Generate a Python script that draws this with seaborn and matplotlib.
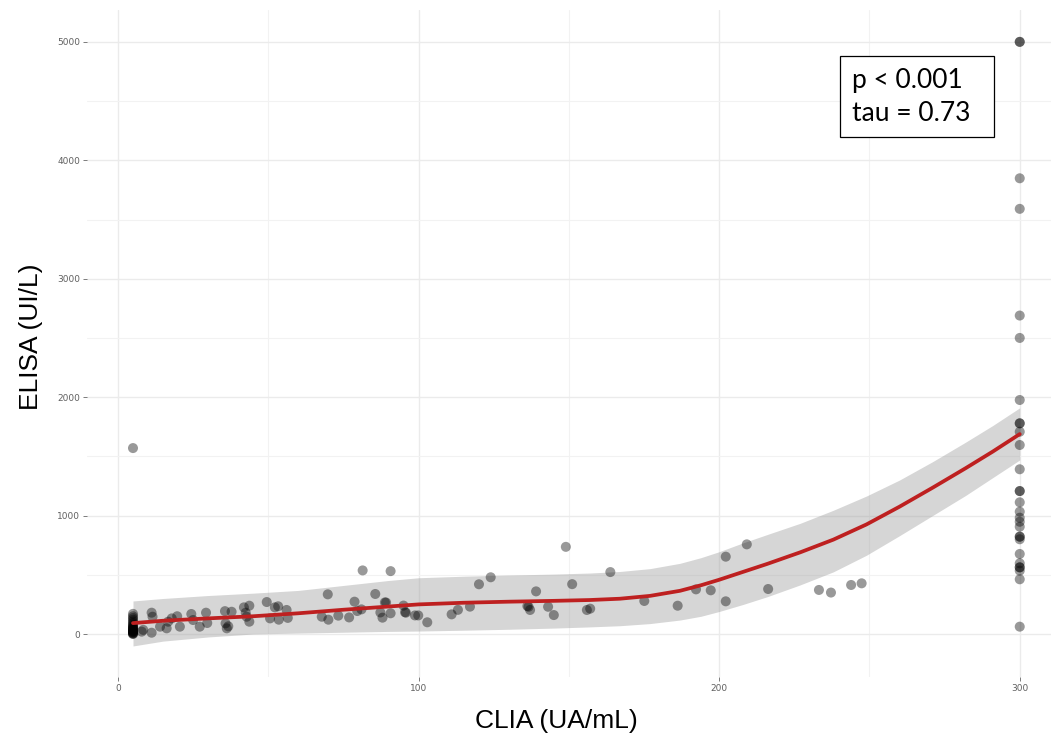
import numpy as np
import pandas as pd
import matplotlib
matplotlib.use("Agg")
import matplotlib.pyplot as plt
from matplotlib.patches import Rectangle
import seaborn as sns

# ---------------- data ----------------
# points at CLIA = 5 (lower limit cluster)
clia_low = [5] * 24
elisa_low = [0, 3, 6, 10, 14, 18, 22, 26, 30, 35, 40, 45, 50, 55, 62, 70, 80, 92,
             105, 120, 135, 150, 170, 1570]

# points between the limits
clia_mid = [8.4, 7.9, 11.2, 11.5, 11.2, 14.0, 16.2, 16.7, 17.9, 19.7, 20.6, 24.4,
            25.0, 27.2, 29.3, 29.7, 35.6, 37.8, 35.8, 36.2, 36.7, 41.9, 43.7, 42.5,
            42.8, 43.7, 49.5, 50.6, 52.2, 53.3, 53.5, 56.1, 56.5,
            67.8, 69.8, 70.0, 73.3, 76.9, 78.7, 79.6, 81.0, 81.4, 85.6, 87.3, 88.0,
            88.8, 89.2, 90.7, 90.7, 95.0, 95.5, 95.8, 98.8, 99.9, 102.9, 111.0,
            113.1, 117.1, 120.1, 124.0, 136.2, 136.6, 137.1, 139.1, 143.1, 145.0,
            149.0, 151.1, 156.0, 157.1, 163.8, 175.1, 186.2, 192.3, 197.2, 202.2,
            202.2, 209.2, 216.3, 233.2, 237.2, 243.9, 247.4]
elisa_mid = [35, 20, 180, 146, 11, 62, 48, 104, 132, 150, 62, 169,
             118, 62, 180, 93, 193, 188, 90, 48, 65, 225, 239, 180,
             146, 104, 270, 132, 225, 234, 121, 203, 136,
             146, 335, 121, 155, 140, 273, 194, 208, 537, 338, 182, 138,
             267, 266, 175, 531, 240, 184, 180, 157, 157, 99, 166,
             204, 231, 420, 479, 236, 230, 203, 360, 230, 160,
             736, 421, 203, 214, 523, 279, 239, 377, 369, 653,
             276, 757, 380, 372, 350, 414, 428]

# points at CLIA = 300 (upper limit)
clia_high = [300] * 29
elisa_high = [5000, 5000, 3848, 3590, 2689, 2500, 1976, 1779, 1779, 1708, 1596, 1391,
              1207, 1207, 1112, 1033, 982, 948, 906, 822, 822, 800, 676, 597,
              563, 563, 535, 462, 62]

# smoothed fit and its confidence band
fit_x = [5, 15, 30, 45, 60, 75, 90, 100, 115, 130, 145, 157, 167, 177, 187, 194,
         200, 208, 216, 227, 238, 249, 260, 271, 282, 291, 300]
fit_y = [92, 112, 132, 150, 175, 205, 232, 250, 264, 273, 280, 287, 298, 322, 365,
         412, 458, 525, 592, 690, 797, 925, 1075, 1235, 1400, 1540, 1688]
fit_lo = [-101, -60, -25, 0, 8, 15, 22, 25, 32, 40, 50, 60, 70, 88, 118, 150,
          190, 250, 315, 415, 525, 665, 830, 1000, 1170, 1320, 1470]
fit_hi = [279, 300, 325, 345, 368, 410, 452, 475, 488, 498, 506, 515, 528, 552, 597,
          645, 695, 770, 840, 935, 1045, 1165, 1300, 1455, 1620, 1760, 1910]

x_ticks = [0, 100, 200, 300]
y_ticks = [0, 1000, 2000, 3000, 4000, 5000]

x_title = "CLIA (UA/mL)"
y_title = "ELISA (UI/L)"
stats_text = "p < 0.001\ntau = 0.73"

# ---------------- figure ----------------
sns.set_theme(style="white")
plt.rcParams['font.family'] = ['DejaVu Sans']

W, H = 1051, 737
fig = plt.figure(figsize=(W / 100, H / 100), dpi=100)
ax = fig.add_axes([87 / W, (H - 677) / H, (W - 87) / W, (677 - 10) / H])

pts = pd.DataFrame({
    "clia": clia_low + clia_mid + clia_high,
    "elisa": elisa_low + elisa_mid + elisa_high,
})
fit = pd.DataFrame({"x": fit_x, "y": fit_y, "lo": fit_lo, "hi": fit_hi})

# grid
ax.set_xticks(x_ticks)
ax.set_yticks(y_ticks)
ax.set_xticks([50, 150, 250], minor=True)
ax.set_yticks([500, 1500, 2500, 3500, 4500], minor=True)
ax.grid(True, which="major", color="#EBEBEB", linewidth=1.0)
ax.grid(True, which="minor", color="#F2F2F2", linewidth=0.8)
ax.set_axisbelow(True)

sns.scatterplot(data=pts, x="clia", y="elisa", ax=ax, color="black", alpha=0.4,
                s=52, edgecolor="none", zorder=3)
ax.fill_between(fit["x"], fit["lo"], fit["hi"], color="#999999", alpha=0.4,
                linewidth=0, zorder=2)
sns.lineplot(data=fit, x="x", y="y", ax=ax, color="#BE2020", linewidth=2.7,
             zorder=4)

ax.set_xlim(-10.3, 310.4)
ax.set_ylim(-363, 5269)

for s in ax.spines.values():
    s.set_visible(False)
ax.tick_params(axis="both", which="major", length=3, width=0.6, color="#666666",
               labelsize=6.5, labelcolor="#606060", pad=2, bottom=True, left=True)
ax.tick_params(axis="both", which="minor", length=0)
ax.set_xlabel("")
ax.set_ylabel("")

title_font = ["Liberation Sans", "DejaVu Sans"]
fig.text(556 / W, 1 - 721 / H, x_title, ha="center", va="center",
         fontsize=19, family=title_font, color="black")
fig.text(31 / W, 1 - 337 / H, y_title, ha="center", va="center", rotation=90,
         fontsize=19, family=title_font, color="black")

# stats box
ax.add_patch(Rectangle(((840 - 87) / 964, (677 - 137) / 667), 154 / 964, 81 / 667,
                       transform=ax.transAxes, facecolor="white", edgecolor="black",
                       linewidth=0.9, zorder=6))
ax.text((852 - 87) / 964, (677 - 97) / 667, stats_text, transform=ax.transAxes,
        ha="left", va="center", fontsize=19, family=["Lato", "DejaVu Sans"],
        linespacing=1.38, color="black", zorder=7)

fig.savefig("out.png", dpi=100)
